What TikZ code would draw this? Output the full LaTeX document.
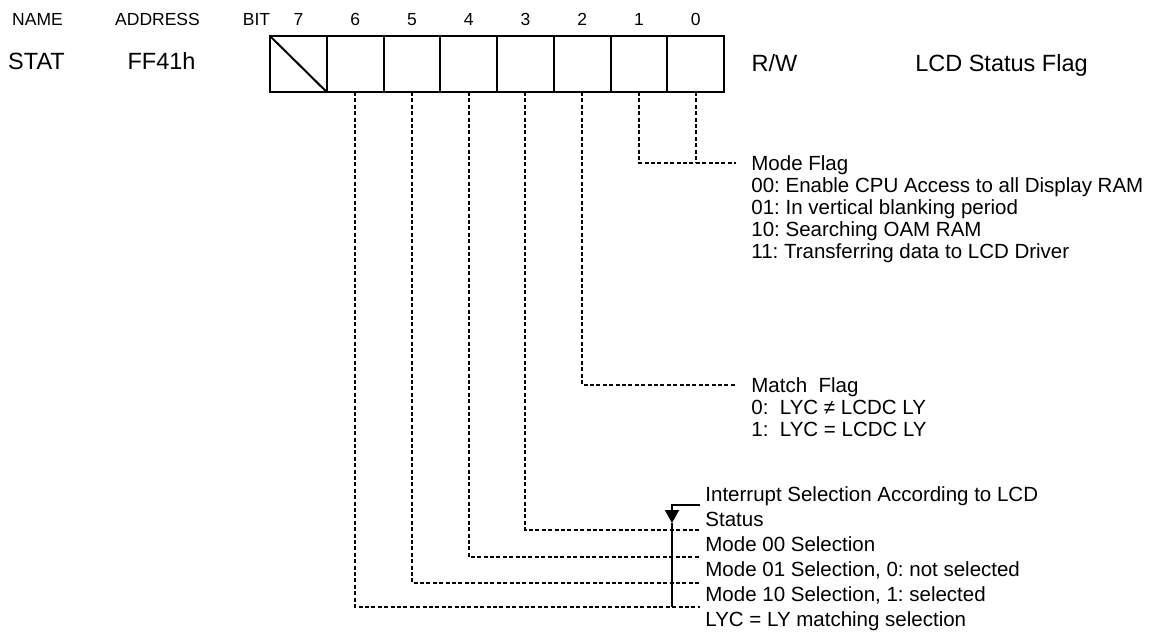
\documentclass[tikz,border=0pt]{standalone}
\usepackage{fontspec}
\setmainfont{Liberation Sans}
\usetikzlibrary{arrows.meta,positioning}
\frenchspacing

\begin{document}
\begin{tikzpicture}[x=0.5pt,y=-0.5pt,
    cell/.style={draw,line width=1pt,outer sep=0pt,inner sep=0pt,
      minimum width=28.375pt,minimum height=28pt},
    hdr/.style={font=\fontsize{8.75}{10}\selectfont,inner sep=0pt,
      text height=6.3pt,text depth=0pt},
    big/.style={font=\fontsize{11.75}{14}\selectfont,inner sep=0pt,
      text height=8.4pt,text depth=0pt},
    ttl/.style={font=\fontsize{10.25}{11}\selectfont,anchor=west,
      inner xsep=7.5pt,inner ysep=0pt,text height=7.35pt,text depth=0pt},
    lst/.style={font=\fontsize{10.25}{11}\selectfont,anchor=north west,
      align=left,inner sep=0pt},
    link/.style={line width=1pt,dash pattern=on 2pt off 1.2pt},
    arr/.style={line width=1pt,-{Triangle[width=7pt,length=6.5pt]}}
  ]
    \useasboundingbox (0,0) rectangle (1158,634);
    \node[cell] (b7) at (298.375,64) {};
    \node[cell,right=0pt of b7] (b6) {};
    \node[cell,right=0pt of b6] (b5) {};
    \node[cell,right=0pt of b5] (b4) {};
    \node[cell,right=0pt of b4] (b3) {};
    \node[cell,right=0pt of b3] (b2) {};
    \node[cell,right=0pt of b2] (b1) {};
    \node[cell,right=0pt of b1] (b0) {};
    \draw[line width=1pt] (b7.north west) -- (b7.south east);

    \node[hdr] (name) at (37.5,19) {NAME};
    \node[hdr] (addr) at (157.5,19) {ADDRESS};
    \node[hdr] (bit) at (256.5,19) {BIT};
    \node[hdr] (n7) at (b7 |- bit) {7};
    \node[hdr] (n6) at (b6 |- bit) {6};
    \node[hdr] (n5) at (b5 |- bit) {5};
    \node[hdr] (n4) at (b4 |- bit) {4};
    \node[hdr] (n3) at (b3 |- bit) {3};
    \node[hdr] (n2) at (b2 |- bit) {2};
    \node[hdr] (n1) at (b1 |- bit) {1};
    \node[hdr] (n0) at (b0 |- bit) {0};

    \node[big] (stat) at (36.5,61) {STAT};
    \node[big] (addrval) at (161.5,61) {FF41h};
    \node[big] (rw) at (774.5,63) {R/W};
    \node[big] (regname) at (1001.5,63) {LCD Status Flag};

    \node[ttl] (mode) at (736,163) {Mode Flag};
    \node[lst] (modeList) at (751,177.6) {00: Enable CPU Access to all Display RAM\\
      01: In vertical blanking period\\10: Searching OAM RAM\\
      11: Transferring data to LCD Driver};
    \draw[link] (b1.south) |- (mode.west);
    \draw[link] (b0.south) -- (b0.south |- mode.west);

    \node[ttl] (match) at (736,385) {Match\ \ Flag};
    \node[lst] (matchList) at (751,399.6) {0:\ \ LYC ≠ LCDC LY\\1:\ \ LYC = LCDC LY};
    \draw[link] (b2.south) |- (match.west);

    \node[lst,font=\fontsize{10.25}{12.5}\selectfont] (intr) at (705,486.6)
      {Interrupt Selection According to LCD\\Status\\Mode 00 Selection\\
      Mode 01 Selection, 0: not selected\\Mode 10 Selection, 1: selected\\
      LYC = LY matching selection};
    \coordinate (i3) at (700,530);
    \coordinate (i4) at (700,557);
    \coordinate (i5) at (700,583);
    \coordinate (i6) at (700,607);
    \draw[link] (b3.south) |- (i3);
    \draw[link] (b4.south) |- (i4);
    \draw[link] (b5.south) |- (i5);
    \draw[link] (b6.south) |- (i6);
    \coordinate (brkTop) at (700,505);
    \coordinate (brkTip) at (672,523);
    \coordinate (brkEnd) at (672,607);
    \draw[arr] (brkTop) -| (brkTip);
    \draw[line width=1pt] (brkTip) -- (brkEnd);
  \end{tikzpicture}
\end{document}
